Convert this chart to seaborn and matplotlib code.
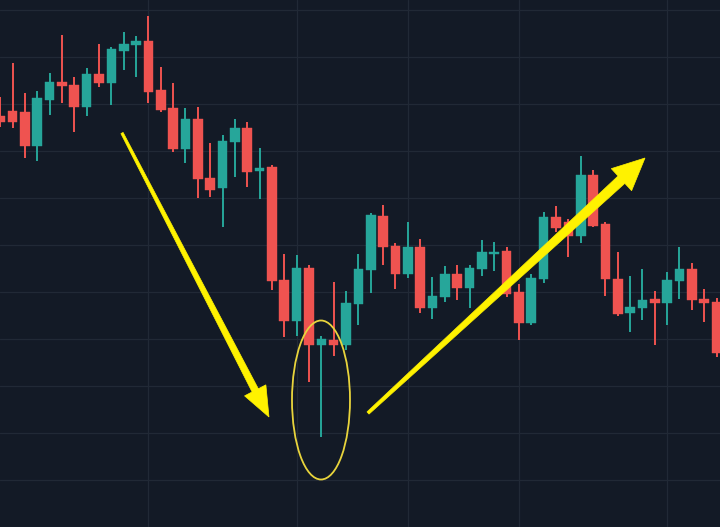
import numpy as np
import pandas as pd
import matplotlib
matplotlib.use("Agg")
import matplotlib.pyplot as plt
import seaborn as sns
from matplotlib.patches import Ellipse, Polygon

# Candle data (arbitrary price units)
opens = [411, 416, 415, 381, 427, 445, 442, 420, 453, 444, 476, 482, 486, 437, 419,
         378, 408, 349, 339, 385, 399, 356, 360, 247, 206, 259, 182, 187, 182, 223,
         257, 311, 281, 253, 280, 219, 230, 253, 239, 258, 273, 276, 235, 204, 248,
         310, 305, 291, 352, 303, 248, 214, 219, 228, 224, 246, 258, 228, 225]
closes = [405, 405, 381, 429, 445, 441, 420, 453, 444, 478, 483, 486, 435, 417, 378,
          408, 348, 337, 386, 399, 355, 359, 246, 206, 259, 182, 188, 182, 224, 258,
          312, 280, 253, 280, 219, 231, 253, 239, 259, 275, 275, 233, 204, 249, 310,
          299, 291, 352, 301, 248, 213, 220, 227, 224, 247, 258, 227, 224, 174]
highs = [430, 464, 434, 436, 454, 492, 450, 459, 483, 480, 495, 491, 511, 460, 444,
         419, 420, 384, 392, 408, 405, 379, 362, 273, 272, 262, 191, 245, 236, 273,
         314, 322, 284, 305, 288, 250, 261, 262, 262, 287, 285, 280, 243, 253, 315,
         321, 308, 371, 357, 305, 275, 251, 258, 236, 255, 280, 264, 238, 229]
lows = [400, 399, 369, 366, 412, 424, 395, 411, 440, 422, 457, 450, 424, 415, 375,
        364, 329, 330, 300, 350, 340, 328, 237, 190, 191, 145, 90, 171, 177, 202,
        234, 262, 238, 249, 214, 208, 225, 227, 219, 251, 256, 230, 187, 202, 244,
        295, 270, 284, 300, 231, 211, 195, 207, 182, 202, 228, 217, 205, 170]

grid_y = [0, 47, 94, 141, 188, 235, 282, 329, 376, 423, 470, 517]
grid_x = [12, 24, 33, 42, 54]

df = pd.DataFrame({"open": opens, "close": closes, "high": highs, "low": lows})
df["up"] = df["close"] >= df["open"]

bg = "#131a26"
up_col = "#26a69a"
down_col = "#ef5350"

sns.set_theme(style="dark", rc={"axes.facecolor": bg, "figure.facecolor": bg,
                                "grid.color": "#212936", "grid.linewidth": 0.9})

fig = plt.figure(figsize=(7.2, 5.27), dpi=100)
ax = fig.add_axes([0, 0, 1, 1])
ax.set_facecolor(bg)

x = np.arange(len(df))
colors = np.where(df["up"], up_col, down_col)

# wicks
ax.vlines(x, df["low"], df["high"], colors=colors, lw=1.4, zorder=2)
# bodies
bottom = df[["open", "close"]].min(axis=1)
height = (df["open"] - df["close"]).abs().clip(lower=2.5)
ax.bar(x, height, bottom=bottom, width=0.78, color=colors, edgecolor=colors,
       linewidth=0.3, zorder=3)

ax.set_xlim(-0.016, 58.28)
ax.set_ylim(0, 527)
ax.set_xticks(grid_x)
ax.set_yticks(grid_y)
ax.grid(True, zorder=0)
ax.tick_params(length=0, labelbottom=False, labelleft=False)
for s in ax.spines.values():
    s.set_visible(False)


# annotation shapes in pixel space (origin top-left), converted to figure fraction
def to_fig(pts):
    return [(px / 720, 1 - py / 527) for px, py in pts]


def tapered_arrow(start, tip, w0, w1, head_w, head_len, color):
    p0 = np.array(start, float)
    p1 = np.array(tip, float)
    d = p1 - p0
    L = np.hypot(*d)
    u = d / L
    n = np.array([-u[1], u[0]])
    base = p1 - u * head_len
    pts = [p0 + n * w0 / 2, base + n * w1 / 2, base + n * head_w / 2, p1,
           base - n * head_w / 2, base - n * w1 / 2, p0 - n * w0 / 2]
    poly = Polygon(to_fig(pts), closed=True, transform=fig.transFigure,
                   facecolor=color, edgecolor=color, lw=0.5, zorder=5)
    fig.patches.append(poly)


tapered_arrow((122, 133), (269, 417), 2.5, 7, 24, 30, "#fff200")
tapered_arrow((368, 413), (645, 158), 3, 10, 30, 32, "#fff200")

ell = Ellipse((321 / 720, 1 - 400 / 527), 58 / 720, 159 / 527,
              transform=fig.transFigure, fill=False, edgecolor="#e8d43c", lw=1.3, zorder=5)
fig.patches.append(ell)

fig.savefig("out.png", dpi=100, facecolor=bg)
